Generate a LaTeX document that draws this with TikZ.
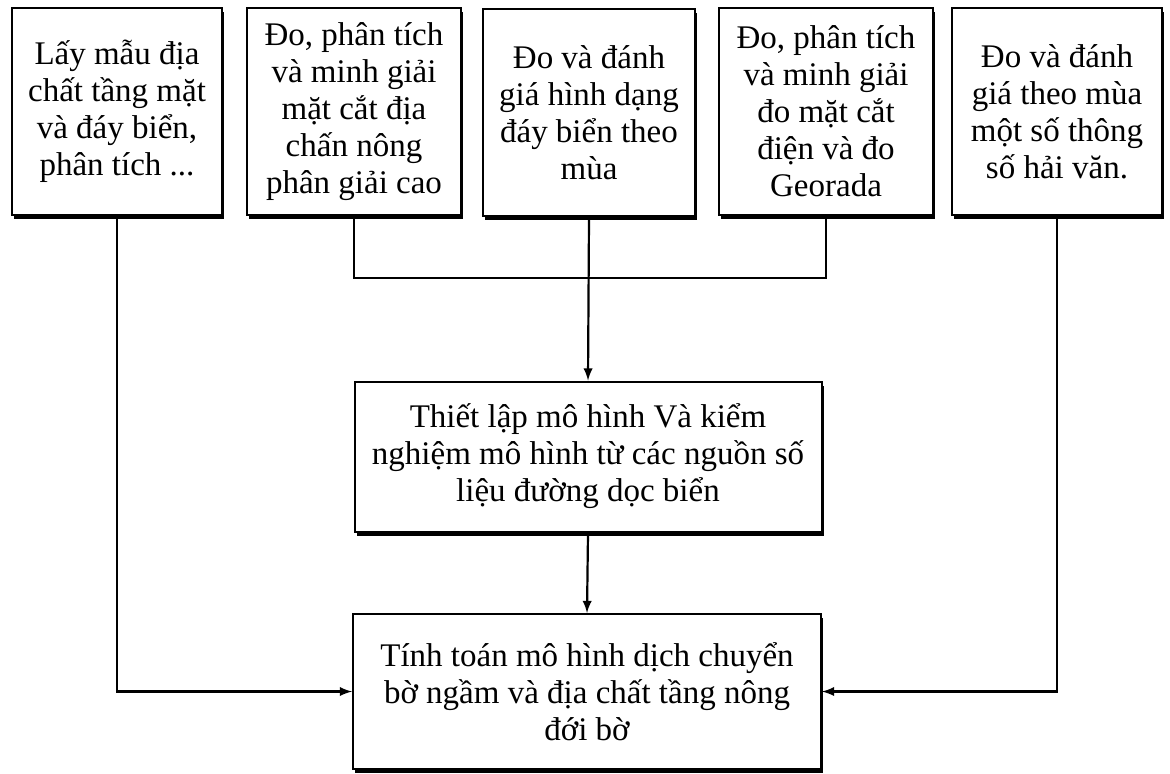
\documentclass[tikz,border=0pt]{standalone}
\usepackage{fontspec}
\setmainfont{Liberation Serif}
\usetikzlibrary{shadows}
\begin{document}
\begin{tikzpicture}[
                x = 0.5pt, y = -0.5pt,
                box/.style = {draw, line width = 1pt, fill = white, align = center,
                    font = \fontsize{16.5}{18.5}\selectfont, inner sep = 2pt,
                    drop shadow = {shadow xshift = 1.2pt, shadow yshift = -2.2pt,
                        opacity = 1, fill = black}},
                top/.style = {box, minimum height = 103.5pt},
                arr/.style = {draw, line width = 1.1pt, -latex},
                line/.style = {draw, line width = 1.1pt},
            ]
            \useasboundingbox (0,0) rectangle (1170,773);

            \node (MAU) [top, minimum width = 105pt] at (117, 111.5)
                {Lấy mẫu địa\\chất tầng mặt\\và đáy biển,\\phân tích ...};
            \node (DIACHAN) [top, minimum width = 107pt] at (354, 111.5)
                {Đo, phân tích\\và minh giải\\mặt cắt địa\\chấn nông\\phân giải cao};
            \node (DAY) [top, minimum width = 106pt] at (589, 112.5)
                {Đo và đánh\\giá hình dạng\\đáy biển theo\\mùa};
            \node (DIEN) [top, minimum width = 107pt] at (826, 111.5)
                {Đo, phân tích\\và minh giải\\đo mặt cắt\\điện và đo\\Georada};
            \node (HAIVAN) [top, minimum width = 105pt] at (1057, 111.5)
                {Đo và đánh\\giá theo mùa\\một số thông\\số hải văn.};

            \node (MOHINH) [box, minimum width = 233.5pt, minimum height = 75pt] at (588, 456.5)
                {Thiết lập mô hình Và kiểm\\nghiệm mô hình từ các nguồn số\\liệu đường dọc biển};
            \node (TINH) [box, minimum width = 234pt, minimum height = 77.5pt] at (587, 691.5)
                {Tính toán mô hình dịch chuyển\\bờ ngầm và địa chất tầng nông\\đới bờ};

            \coordinate (J) at (DAY.south |- 0,278);

            \path[line] (DIACHAN.south) |- (J);
            \path[line] (DIEN.south) |- (J);
            \path[arr] (DAY.south) -- (MOHINH.north);
            \path[arr] (MOHINH.south) -- (TINH.north);

            \path[arr] (MAU.south) |- (TINH.west);
            \path[arr] (HAIVAN.south) |- (TINH.east);
        \end{tikzpicture}
\end{document}
